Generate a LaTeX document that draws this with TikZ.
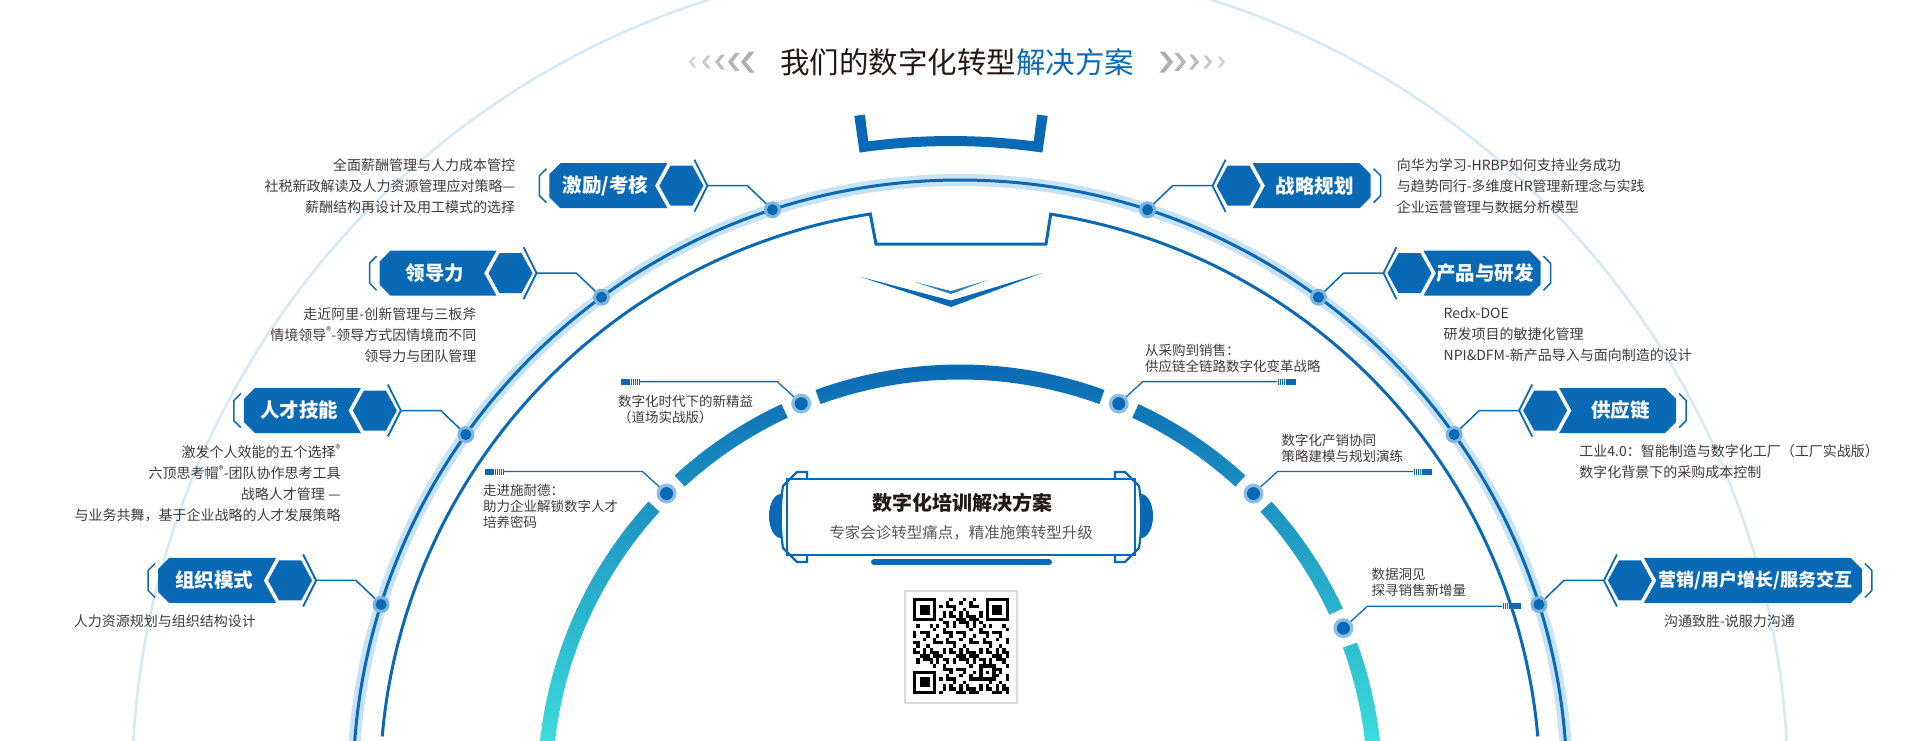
\documentclass[tikz,border=0pt]{standalone}
\usepackage{fontspec}
\newfontfamily\cjk{Noto Sans CJK SC}
\usepackage{tikz}
\usetikzlibrary{calc}

\definecolor{mainblue}{HTML}{0A69B4}
\definecolor{haloblue}{HTML}{C6E2F4}
\definecolor{faintblue}{HTML}{D2E9F6}
\definecolor{ringdot}{HTML}{7DB3E0}
\definecolor{banddot}{HTML}{8CBDE5}
\definecolor{txtgray}{HTML}{3E3A39}
\definecolor{subgray}{HTML}{595757}
\definecolor{darktxt}{HTML}{231815}
\definecolor{bandtop}{HTML}{0A68B3}
\definecolor{bandmid}{HTML}{1A9ED0}
\definecolor{bandbot}{HTML}{3CDCDC}

\begin{document}
\begin{tikzpicture}[x=1pt, y=-1pt,
    desc/.style={font=\cjk\fontsize{14}{21}\selectfont, text=txtgray, inner sep=0pt},
    note/.style={font=\cjk\fontsize{13.5}{16}\selectfont, text=txtgray, inner sep=0pt, align=left, anchor=north west},
    boxlabel/.style={text=white, inner sep=0pt},
    conn/.style={mainblue, line width=1.5pt},
    ring/.style={mainblue, line width=3pt},
    frame/.style={mainblue, line width=2.2pt}]
  \useasboundingbox (0,0) rectangle (1921,740);
  \clip (0,0) rectangle (1921,740);

  % rings
  \draw[faintblue, line width=2.5pt] (960,789) circle (828);
  \draw[haloblue, line width=12pt] (960,787) circle (607);
  \draw[ring] (960,787) circle (607);
  \draw[ring] ($(960,787)+(-175:580)$) arc[start angle=-175, end angle=-98.9, radius=580]
    -- (876,244) -- (1046,244) -- ($(960,787)+(-81:580)$) arc[start angle=-81, end angle=-5, radius=580];

  % top bracket and arrow
  \begin{scope}[shift={(951,787)}]
    \fill[mainblue] (-98.2:678) -- (-98.2:641) arc[start angle=-98.2, end angle=-81.8, radius=641]
      -- (-81.8:678) -- (-82.7:678) -- (-82.7:651) arc[start angle=-82.7, end angle=-97.3, radius=651]
      -- (-97.3:678) -- cycle;
  \end{scope}
  \fill[mainblue] (861,277) -- (951,300.5) -- (1042,273) -- (951,307) -- cycle;
  \fill[mainblue!85] (915,282) -- (951,291) -- (988,280) -- (951,294) -- cycle;

  % title
  \node[font=\cjk\fontsize{29.5}{30}\selectfont, text=darktxt] (title) at (957,62) {我们的数字化转型\textcolor{mainblue}{解决方案}};
  \foreach \k/\h/\t/\c in {0/5.5/3/18, 1/6.5/3.5/22, 2/7.5/4/26, 3/9/4.5/29, 4/10.5/5/32}{
    \foreach \s in {1,-1}{
      \begin{scope}[shift={(957,62)}, xscale=\s]
        \fill[black!\c] ({-268+13*\k},0) -- ++(0.8*\h,-\h) -- ++(\t,0) -- ++(-0.8*\h,\h) -- ++(0.8*\h,\h) -- ++(-\t,0) -- cycle;
      \end{scope}
    }
  }

  % segmented band
  \begin{scope}
    \clip[shift={(960,787)}] \foreach \a/\b in {2/20, 25/42.5, 47.5/65, 70/110, 115/132.5, 137.5/178}{
      (-\a:407.5) arc[start angle=-\a, end angle=-\b, radius=407.5] -- (-\b:422.5) arc[start angle=-\b, end angle=-\a, radius=422.5] -- cycle};
    \shade[top color=bandtop, middle color=bandmid, bottom color=bandbot] (500,360) rectangle (1420,745);
  \end{scope}

  % outer topics
  \foreach \ang/\s/\len/\fs/\lbl/\nm in {108/-1/158/19.5/{激励/考核}/g1, 126.2/-1/157/19.5/领导力/g2, 144.5/-1/157/19.5/人才技能/g3, 162.5/-1/158/19.5/组织模式/g4,
      72/1/158/19.5/战略规划/g5, 53.8/1/157/19.5/产品与研发/g6, 35.5/1/157/19.5/供应链/g7, 17.5/1/258/18/{营销/用户增长/服务交互}/g8}{
    \coordinate (d\nm) at ($(960,787)+(-\ang:607)$);
    \coordinate (e\nm) at ($(d\nm)+(25*\s,-24)$);
    \coordinate (t\nm) at ($(e\nm)+(40*\s,0)$);
    \draw[conn] (d\nm) -- (e\nm) -- (t\nm);
    \fill[ringdot] (d\nm) circle (8.5);
    \fill[mainblue] (d\nm) circle (5.5);
    \begin{scope}[shift={(t\nm)}, xscale=\s]
      \draw[mainblue, line width=1.8pt] (13,-26) -- (0,0) -- (13,26);
      \fill[mainblue] (4,0) -- (15,-20) -- (37,-20) -- (48,0) -- (37,20) -- (15,20) -- cycle;
      \fill[mainblue] (40,-22.5) -- (\len-11,-22.5) -- (\len,-11.5) -- (\len,11.5) -- (\len-11,22.5) -- (40,22.5) -- (52.4,0) -- cycle;
      \draw[mainblue, line width=1.5pt] (\len+3,-17) -- (\len+10,-10) -- (\len+10,10) -- (\len+3,17);
      \node[boxlabel, font=\cjk\fontsize{\fs}{20}\selectfont\bfseries] (b\nm) at ({(46+\len)/2},0) {\lbl};
    \end{scope}
  }

  \node[desc, align=right, anchor=east] (xg1) at ($(tg1)+(-192,0)$) {全面薪酬管理与人力成本管控\\社税新政解读及人力资源管理应对策略—\\薪酬结构再设计及用工模式的选择};
  \node[desc, align=right, anchor=north east] (xg2) at ($(tg2)+(-60,34)$) {走近阿里-创新管理与三板斧\\情境领导\textsuperscript{®}-领导方式因情境而不同\\领导力与团队管理};
  \node[desc, align=right, anchor=north east] (xg3) at ($(tg3)+(-60,34)$) {激发个人效能的五个选择\textsuperscript{®}\\六顶思考帽\textsuperscript{®}-团队协作思考工具\\战略人才管理 —\\与业务共舞，基于企业战略的人才发展策略};
  \node[desc, align=right, anchor=north east] (xg4) at ($(tg4)+(-60,34)$) {人力资源规划与组织结构设计};
  \node[desc, align=left, anchor=west] (xg5) at ($(tg5)+(184,0)$) {向华为学习-HRBP如何支持业务成功\\与趋势同行-多维度HR管理新理念与实践\\企业运营管理与数据分析模型};
  \node[desc, align=left, anchor=north west] (xg6) at ($(tg6)+(60,34)$) {Redx-DOE\\研发项目的敏捷化管理\\NPI\&DFM-新产品导入与面向制造的设计};
  \node[desc, align=left, anchor=north west] (xg7) at ($(tg7)+(60,34)$) {工业4.0：智能制造与数字化工厂（工厂实战版）\\数字化背景下的采购成本控制};
  \node[desc, align=left, anchor=north west] (xg8) at ($(tg8)+(60,34)$) {沟通致胜-说服力沟通};

  % inner topics
  \foreach \ang/\s/\hx/\nm in {112.5/-1/640/a1, 135/-1/504/a2, 67.5/1/1277/a3, 45/1/1413/a4, 22.5/1/1502/a5}{
    \pgfmathsetmacro\ey{787-415*sin(\ang)-22}
    \coordinate (d\nm) at ($(960,787)+(-\ang:415)$);
    \coordinate (e\nm) at ($(d\nm)+(24*\s,-22)$);
    \coordinate (m\nm) at (\hx,\ey);
    \draw[conn, line width=1.3pt] (d\nm) -- (e\nm) -- (m\nm);
    \begin{scope}[shift={(m\nm)}, xscale=\s]
      \foreach \k in {1,...,5} \draw[mainblue, line width=0.7pt] (2*\k-1,-3) -- (2*\k-1,3);
      \fill[mainblue] (10,-3) rectangle (19,3);
    \end{scope}
    \fill[banddot] (d\nm) circle (10);
    \fill[mainblue] (d\nm) circle (6.5);
  }
  \node[note] (na1) at ($(ma1)+(-22,13)$) {数字化时代下的新精益\\（道场实战版）};
  \node[note] (na2) at ($(ma2)+(-21,12)$) {走进施耐德：\\助力企业解锁数字人才\\培养密码};
  \node[note] (na3) at ($(ea3)+(2,-38)$) {从采购到销售：\\供应链全链路数字化变革战略};
  \node[note] (na4) at ($(ea4)+(4,-38)$) {数字化产销协同\\策略建模与规划演练};
  \node[note] (na5) at ($(ea5)+(4,-38)$) {数据洞见\\探寻销售新增量};

  % centre panel
  \draw[frame] (787,479) rectangle (1135,555);
  \foreach \s in {1,-1}{
    \begin{scope}[shift={(961,0)}, xscale=\s]
      \draw[frame] (-154,479) -- (-154,472) -- (-164,472) -- (-178,486) .. controls (-181,505) and (-181,529) .. (-178,548) -- (-164,562) -- (-154,562) -- (-154,555);
      \fill[mainblue] (-180,494) arc[start angle=-90, end angle=-270, x radius=12, y radius=22] -- cycle;
    \end{scope}
  }
  \draw[mainblue, line width=6pt, line cap=round] (874,562) -- (1049,562);
  \node[font=\cjk\fontsize{20}{20}\selectfont\bfseries, text=darktxt] (ctitle) at (962,503) {数字化培训解决方案};
  \node[font=\cjk\fontsize{15.5}{16}\selectfont, text=subgray] (csub) at (961,533) {专家会诊转型痛点，精准施策转型升级};

  % qr code
  \draw[black!15, line width=1.5pt] (905,591) rectangle (1017,703);
  \begin{scope}[shift={(913,598)}, x=3.31pt, y=-3.31pt]
    \foreach \fx/\fy in {0/0, 22/0, 0/22}{
      \fill[black] (\fx,\fy) rectangle ++(7,7);
      \fill[white] (\fx+1,\fy+1) rectangle ++(5,5);
      \fill[black] (\fx+2,\fy+2) rectangle ++(3,3);
    }
    \fill[black] (20,20) rectangle ++(5,5);
    \fill[white] (21,21) rectangle ++(3,3);
    \fill[black] (22,22) rectangle ++(1,1);
    \foreach \i in {0,...,28}{
      \foreach \j in {0,...,28}{
        \pgfmathtruncatemacro\skp{(\i<8)*(\j<8)+(\i>20)*(\j<8)+(\i<8)*(\j>20)+(\i>19)*(\i<25)*(\j>19)*(\j<25)}
        \pgfmathtruncatemacro\v{mod(\i*\i*7+\j*\j*5+\i*\j*3+\i*11+\j*13,11)}
        \ifnum\skp=0 \ifnum\v<5 \fill[black] (\i,\j) rectangle ++(1,1); \fi\fi
      }
    }
  \end{scope}
\end{tikzpicture}
\end{document}
